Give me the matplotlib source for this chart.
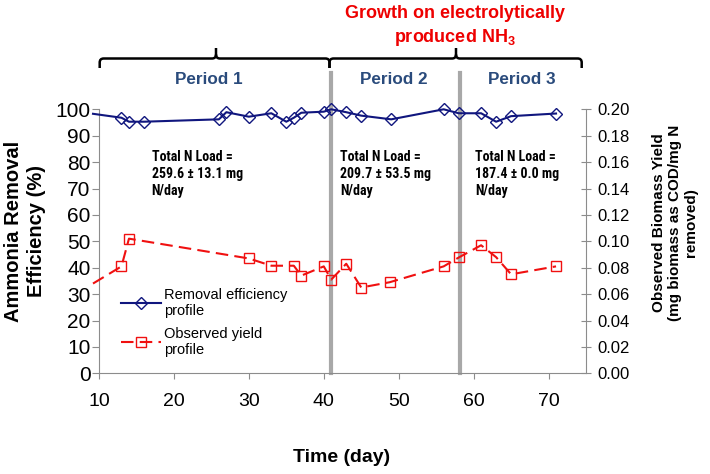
import numpy as np
import matplotlib
matplotlib.use("Agg")
import matplotlib.pyplot as plt
from matplotlib import font_manager
from matplotlib.font_manager import FontProperties
from matplotlib.path import Path
from matplotlib.patches import PathPatch
from matplotlib.ticker import FormatStrFormatter

# data
days_eff = [9.2, 13, 14, 16, 26, 27, 30, 33, 35, 36, 37, 40, 41, 43, 45, 49, 56, 58, 61, 63, 65, 71]
removal_eff = [98.3, 96.8, 95.3, 95.3, 96.2, 98.9, 97.2, 98.5, 95.3, 96.8, 98.7, 99.1, 100.0,
               98.9, 97.6, 96.2, 100.0, 98.5, 98.5, 95.3, 97.4, 98.4]

days_yield = [9.2, 13, 14, 30, 33, 36, 37, 40, 41, 43, 45, 48.8, 56, 58.1, 61, 63, 65, 71]
obs_yield = [0.068, 0.081, 0.102, 0.087, 0.0815, 0.0815, 0.074, 0.081, 0.071, 0.083, 0.065,
             0.069, 0.081, 0.088, 0.097, 0.088, 0.075, 0.081]

period_breaks = [41, 58.2]
period_names = ["Period 1", "Period 2", "Period 3"]
n_loads = ["Total N Load =\n259.6 \u00b1 13.1 mg\nN/day",
           "Total N Load =\n209.7 \u00b1 53.5 mg\nN/day",
           "Total N Load =\n187.4 \u00b1 0.0 mg\nN/day"]

plt.rcParams["font.family"] = ["Liberation Sans", "DejaVu Sans"]
plt.rcParams["mathtext.fontset"] = "custom"
plt.rcParams["mathtext.rm"] = "Liberation Sans:bold"

# look for a narrow bold face for the load notes
narrow_fp = None
for key in ["LiberationSansNarrow-Bold", "ArialNarrow", "RobotoCondensed-Bold",
            "OpenSansCondensed-Bold", "DejaVuSansCondensed-Bold"]:
    for f in font_manager.fontManager.ttflist:
        if key.lower() in f.fname.replace(" ", "").lower():
            narrow_fp = f.fname
            break
    if narrow_fp:
        break

W, H = 710, 474
fig = plt.figure(figsize=(W / 100, H / 100), dpi=100)

def fx(px):
    return px / W

def fy(py):
    return 1 - py / H

ax = fig.add_axes([fx(99), fy(373.3), fx(586) - fx(99), fy(109.3) - fy(373.3)])
ax2 = ax.twinx()

blue = "#10167e"
red = "#f01010"
grey_ax = "#8c8c8c"

for xb in period_breaks:
    ax.axvline(xb, ymin=0, ymax=1.136, color="#a8a8a8", lw=3, zorder=1, clip_on=False)

ax.plot(days_eff, removal_eff, color=blue, lw=1.5, marker="D", ms=6, mfc="none",
        mec=blue, mew=1.0, markevery=slice(1, None), clip_on=False, zorder=3,
        label="Removal efficiency\nprofile")
ax2.plot(days_yield, obs_yield, color=red, lw=1.5, ls=(0, (6, 3)), marker="s", ms=7,
         mfc="none", mec=red, mew=1.0, markevery=slice(1, None), clip_on=False, zorder=3,
         label="Observed yield\nprofile")

ax.set_xlim(10, 75)
ax.set_ylim(0, 100)
ax2.set_ylim(0, 0.2)
ax.set_xticks(range(10, 80, 10))
ax.set_yticks(range(0, 101, 10))
ax2.set_yticks(np.arange(0, 0.201, 0.02))
ax2.yaxis.set_major_formatter(FormatStrFormatter("%.2f"))

for s in ["top", "right"]:
    ax.spines[s].set_visible(False)
for s in ["top", "left", "bottom"]:
    ax2.spines[s].set_visible(False)
for s in ["left", "bottom"]:
    ax.spines[s].set_color(grey_ax)
ax2.spines["right"].set_color(grey_ax)

ax.tick_params(axis="x", direction="out", length=4.3, color=grey_ax, labelsize=14, pad=10)
ax.tick_params(axis="y", direction="out", length=5, color=grey_ax, labelsize=15, pad=1)
ax2.tick_params(axis="y", direction="inout", length=7, color=grey_ax, labelsize=12, pad=5)

# axis titles
fig.text(fx(25), fy(231), "Ammonia Removal\nEfficiency (%)", rotation=90, ha="center",
         va="center", fontsize=14.5, fontweight="bold", linespacing=1.3, multialignment="center")
fig.text(fx(675), fy(223), "Observed Biomass Yield\n(mg biomass as COD/mg N\nremoved)",
         rotation=90, ha="center", va="center", fontsize=11, fontweight="bold",
         linespacing=1.15, multialignment="center")
fig.text(fx(342), fy(458), "Time (day)", ha="center", va="center", fontsize=14, fontweight="bold")

# legend
h1, l1 = ax.get_legend_handles_labels()
h2, l2 = ax2.get_legend_handles_labels()
ax2.legend(h1 + h2, l1 + l2, loc="upper left", bbox_to_anchor=(fx(120.5), fy(288)),
           bbox_transform=fig.transFigure, frameon=False, fontsize=10.5, borderpad=0,
           borderaxespad=0, handlelength=2.8, handletextpad=0.2, labelspacing=0.6,
           numpoints=1)

# load annotations
for xp, txt in zip([151.7, 340, 475], n_loads):
    if narrow_fp:
        fig.text(fx(xp), fy(150), txt, ha="left", va="top", linespacing=1.25,
                 fontproperties=FontProperties(fname=narrow_fp, size=10))
    else:
        fig.text(fx(xp), fy(150), txt, ha="left", va="top", fontsize=9,
                 fontweight="bold", linespacing=1.35)

# period labels
for xp, name in zip([209, 394, 522], period_names):
    fig.text(fx(xp), fy(80), name, ha="center", va="center", fontsize=12.3,
             fontweight="bold", color="#2a4b7c")

# title in red
fig.text(fx(455), fy(14), "Growth on electrolytically", ha="center", va="center",
         fontsize=13, fontweight="bold", color="#ee0000")
fig.text(fx(455), fy(38), r"produced NH$_3$", ha="center", va="center",
         fontsize=13, fontweight="bold", color="#ee0000")

# braces
def brace(x0, x1, xt, yh=58.5, yb=68, ytip=48, r=4):
    pts = [(x0, yb), (x0, yh + r), (x0, yh), (x0 + r, yh), (xt - r, yh), (xt, yh),
           (xt, yh - r), (xt, ytip), (xt, yh - r), (xt, yh), (xt + r, yh),
           (x1 - r, yh), (x1, yh), (x1, yh + r), (x1, yb)]
    codes = [Path.MOVETO, Path.LINETO, Path.CURVE3, Path.CURVE3, Path.LINETO, Path.CURVE3,
             Path.CURVE3, Path.LINETO, Path.MOVETO, Path.CURVE3, Path.CURVE3,
             Path.LINETO, Path.CURVE3, Path.CURVE3, Path.LINETO]
    verts = [(fx(a), fy(b)) for a, b in pts]
    fig.add_artist(PathPatch(Path(verts, codes), fill=False, lw=1.8, ec="black",
                             transform=fig.transFigure, capstyle="butt"))

brace(99.7, 329.5, 216)
brace(329.5, 581.7, 456)

fig.savefig("out.png", dpi=100)
